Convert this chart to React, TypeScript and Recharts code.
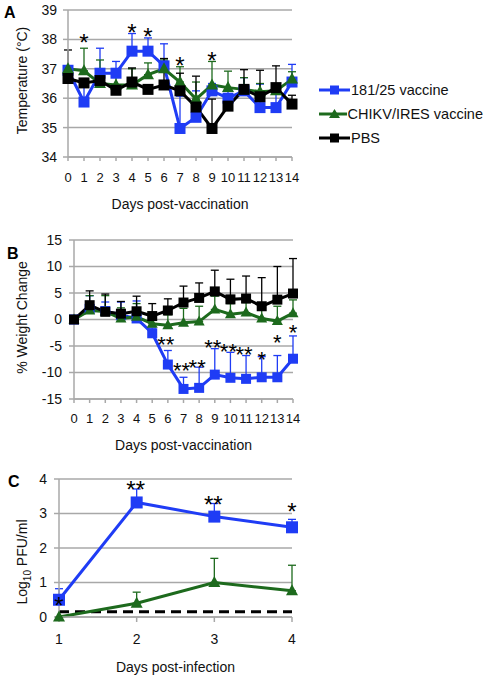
import React from 'react';
import { LineChart, Line, XAxis, YAxis, CartesianGrid, ErrorBar, Legend, ReferenceLine } from 'recharts';

const FONT = '"Liberation Sans", Arial, Helvetica, sans-serif';
const BLUE = '#1f3cf5';
const GREEN = '#1d6a1d';
const BLACK = '#000000';
const GRID = '#a8a8a8';

const seriesNames = ['181/25 vaccine', 'CHIKV/IRES vaccine', 'PBS'];

// Panel A: temperature
const daysA = [0, 1, 2, 3, 4, 5, 6, 7, 8, 9, 10, 11, 12, 13, 14];
const blueA = [36.95, 35.87, 36.85, 36.85, 37.6, 37.6, 37.1, 34.97, 35.35, 36.25, 36.0, 36.25, 35.68, 35.68, 36.55];
const blueErrA = [0.15, 0.6, 0.85, 0.4, 0.6, 0.45, 0.75, 1.1, 0.9, 0.25, 0.3, 0.45, 0.8, 0.6, 0.6];
const greenA = [37.0, 36.93, 36.5, 36.45, 36.45, 36.8, 37.0, 36.55, 35.97, 36.45, 36.36, 36.3, 36.22, 36.25, 36.65];
const greenErrA = [0.1, 0.77, 0.8, 0.55, 0.55, 0.4, 0.3, 0.52, 0.58, 0.8, 0.56, 0.4, 0.28, 0.2, 0.25];
const blackA = [36.67, 36.52, 36.6, 36.27, 36.55, 36.3, 36.45, 36.25, 35.7, 34.97, 35.73, 36.3, 36.05, 36.36, 35.8];
const blackErrA = [0.97, 0.1, 0.1, 0.15, 0.48, 0.1, 0.9, 0.6, 1.05, 1.0, 0.3, 0.67, 0.9, 0.74, 0.3];
const starsA = ['', '*', '', '', '*', '*', '', '*', '', '*', '', '', '', '', ''];
const starYA = [null, 38.1, null, null, 38.43, 38.3, null, 37.3, null, 37.47, null, null, null, null, null];
const ticksA = [34, 35, 36, 37, 38, 39];

// Panel B: weight change
const blueB = [0, 2.0, 1.6, 0.8, 0.2, -2.6, -8.5, -13.1, -12.9, -10.4, -11.0, -11.2, -10.9, -10.9, -7.4];
const blueErrB = [0, 2.5, 1.7, 2.5, 3.3, 1.0, 2.65, 2.2, 3.9, 4.9, 4.8, 4.4, 3.9, 4.1, 4.3];
const greenB = [0, 1.7, 1.5, 0.2, 0.5, -0.8, -1.1, -0.6, -0.4, 1.9, 1.0, 1.3, 0.2, -0.3, 1.2];
const greenErrB = [0, 2.8, 3.0, 2.0, 2.5, 2.0, 2.0, 2.7, 2.9, 2.5, 2.0, 1.9, 2.2, 2.8, 2.5];
const blackB = [0, 2.7, 1.45, 1.1, 1.55, 0.65, 1.7, 3.2, 4.07, 5.3, 3.8, 3.95, 2.5, 3.75, 4.9];
const blackErrB = [0, 2.7, 3.35, 2.3, 2.85, 2.35, 2.2, 3.1, 2.83, 4.0, 3.8, 4.25, 5.4, 6.25, 6.6];
const starsB = ['', '', '', '', '', '', '**', '**', '**', '**', '**', '**', '*', '*', '*'];
const starYB = [null, null, null, null, null, null, -3.6, -8.5, -8.06, -4.3, -4.95, -5.6, -6.4, -3.3, -1.4];
const ticksB = [-15, -10, -5, 0, 5, 10, 15];

// Panel C: viremia
const daysC = [1, 2, 3, 4];
const blueC = [0.5, 3.32, 2.91, 2.6];
const blueErrC = [0.32, 0.39, 0.38, 0.23];
const greenC = [0, 0.4, 1.0, 0.76];
const greenErrC = [0, 0.32, 0.7, 0.74];
const starsC = ['*', '**', '**', '*'];
const starYC = [0.5, 3.88, 3.43, 3.24];
const ticksC = [0, 1, 2, 3, 4];
const detectionLimit = 0.15;

const dataA = daysA.map((d, i) => ({
  day: d,
  blue: blueA[i], blueErr: [0, blueErrA[i]],
  green: greenA[i], greenErr: [0, greenErrA[i]],
  black: blackA[i], blackErr: [0, blackErrA[i]],
  starY: starYA[i],
}));

const dataB = daysA.map((d, i) => ({
  day: d,
  blue: blueB[i], blueErr: [0, blueErrB[i]],
  green: greenB[i], greenErr: [0, greenErrB[i]],
  black: blackB[i], blackErr: [0, blackErrB[i]],
  starY: starYB[i],
}));

const dataC = daysC.map((d, i) => ({
  day: d,
  blue: blueC[i], blueErr: [0, blueErrC[i]],
  green: greenC[i], greenErr: [0, greenErrC[i]],
  starY: starYC[i],
}));

const square = (color: string, size: number) => (props: any) => {
  const { cx, cy, index } = props;
  if (cx == null || cy == null) return <g key={`s-${index}`} />;
  return <rect key={`s-${index}`} x={cx - size / 2} y={cy - size / 2} width={size} height={size} fill={color} />;
};

const triangle = (color: string, size: number) => (props: any) => {
  const { cx, cy, index } = props;
  if (cx == null || cy == null) return <g key={`t-${index}`} />;
  const h = size / 2;
  return <polygon key={`t-${index}`} points={`${cx},${cy - h - 1} ${cx + h + 0.5},${cy + h - 1} ${cx - h - 0.5},${cy + h - 1}`} fill={color} />;
};

const starLabel = (stars: string[], fontSize: number, dx: number) => (props: any) => {
  const { x, y, index } = props;
  const s = stars[index];
  if (!s || x == null || y == null) return null;
  return (
    <text key={`st-${index}`} x={x + (s.length > 1 ? dx : 0)} y={y + fontSize * 0.6} textAnchor="middle" fontSize={fontSize} fontFamily={FONT} fill="#000">
      {s}
    </text>
  );
};

const yTitle = (text: React.ReactNode, dy: number) => (props: any) => {
  const vb = props.viewBox;
  const cx = 22;
  const cy = vb.y + vb.height / 2 + dy;
  return (
    <text transform={`rotate(-90 ${cx} ${cy})`} x={cx} y={cy} textAnchor="middle" dominantBaseline="central" fontSize={14} fontFamily={FONT} fill="#111">
      {text}
    </text>
  );
};

const xTitle = (text: string, dy: number) => (props: any) => {
  const vb = props.viewBox;
  return (
    <text x={vb.x + vb.width / 2} y={vb.y + dy} textAnchor="middle" dominantBaseline="central" fontSize={14} fontFamily={FONT} fill="#111">
      {text}
    </text>
  );
};

const renderLegend = (props: any) => {
  const items = (props.payload || []).filter((p: any) => p.type !== 'none');
  return (
    <div style={{ fontFamily: FONT }}>
      {items.map((p: any, i: number) => (
        <div key={i} style={{ display: 'flex', alignItems: 'center', height: 24 }}>
          <svg width={31} height={14} style={{ display: 'block' }}>
            <line x1={0} y1={7} x2={31} y2={7} stroke={p.color} strokeWidth={3} />
            {p.dataKey === 'green'
              ? <polygon points="15.5,2 21,11 10,11" fill={p.color} />
              : <rect x={11} y={2.5} width={9} height={9} fill={p.color} />}
          </svg>
          <span style={{ fontSize: 14.5, color: '#111', marginLeft: 1, whiteSpace: 'nowrap' }}>{p.value}</span>
        </div>
      ))}
    </div>
  );
};

const tickStyle = (size: number) => ({ fontSize: size, fill: '#111', fontFamily: FONT });

const panelLetter = (letter: string, left: number, top: number) => (
  <div style={{ position: 'absolute', left, top, fontSize: 16, fontWeight: 'bold', fontFamily: FONT, lineHeight: '16px' }}>{letter}</div>
);

export default function App() {
  return (
    <div style={{ position: 'absolute', left: 0, top: 0, width: 483, height: 678, background: '#fff', fontFamily: FONT }}>
      {panelLetter('A', 4, 5)}
      {panelLetter('B', 7, 246)}
      {panelLetter('C', 8, 474)}

      <div style={{ position: 'absolute', left: 0, top: 0 }}>
        <LineChart width={483} height={215} data={dataA} margin={{ top: 10, right: 191, bottom: 8, left: 8 }}>
          <CartesianGrid vertical={false} stroke={GRID} strokeWidth={1.5} />
          <XAxis dataKey="day" interval={0} height={50} tick={tickStyle(13)} tickSize={4} tickMargin={12}
            stroke={GRID} strokeWidth={1.5} label={{ content: xTitle('Days post-vaccination', 47) }} />
          <YAxis domain={[34, 39]} ticks={ticksA} width={60} tick={tickStyle(14)} tickSize={5} tickMargin={6}
            stroke={GRID} strokeWidth={1.5} label={{ content: yTitle('Temperature (°C)', -3) }} />
          <Line dataKey="blue" name={seriesNames[0]} stroke={BLUE} strokeWidth={3} dot={square(BLUE, 11)} activeDot={false} isAnimationActive={false}>
            <ErrorBar dataKey="blueErr" width={4} stroke={BLUE} strokeWidth={1.3} />
          </Line>
          <Line dataKey="green" name={seriesNames[1]} stroke={GREEN} strokeWidth={3} dot={triangle(GREEN, 11)} activeDot={false} isAnimationActive={false}>
            <ErrorBar dataKey="greenErr" width={4} stroke={GREEN} strokeWidth={1.3} />
          </Line>
          <Line dataKey="black" name={seriesNames[2]} stroke={BLACK} strokeWidth={3} dot={square(BLACK, 11)} activeDot={false} isAnimationActive={false}>
            <ErrorBar dataKey="blackErr" width={4} stroke={BLACK} strokeWidth={1.3} />
          </Line>
          <Line dataKey="starY" stroke="none" legendType="none" dot={false} activeDot={false} isAnimationActive={false} label={starLabel(starsA, 24, 0)} />
          <Legend layout="vertical" align="center" verticalAlign="middle" content={renderLegend}
            wrapperStyle={{ position: 'absolute', left: 319, top: 78, width: 164 }} />
        </LineChart>
      </div>

      <div style={{ position: 'absolute', left: 0, top: 215 }}>
        <LineChart width={483} height={245} data={dataB} margin={{ top: 25, right: 190, bottom: 6, left: 8 }}>
          <CartesianGrid vertical={false} stroke={GRID} strokeWidth={1.5} />
          <XAxis dataKey="day" interval={0} height={55} tick={tickStyle(13)} tickSize={4} tickMargin={11}
            stroke={GRID} strokeWidth={1.5} label={{ content: xTitle('Days post-vaccination', 46) }} />
          <YAxis domain={[-15, 15]} ticks={ticksB} width={66} tick={tickStyle(14)} tickSize={5} tickMargin={7}
            stroke={GRID} strokeWidth={1.5} label={{ content: yTitle('% Weight Change', -2) }} />
          <Line dataKey="blue" name={seriesNames[0]} stroke={BLUE} strokeWidth={3} dot={square(BLUE, 10)} activeDot={false} isAnimationActive={false}>
            <ErrorBar dataKey="blueErr" width={4} stroke={BLUE} strokeWidth={1.3} />
          </Line>
          <Line dataKey="green" name={seriesNames[1]} stroke={GREEN} strokeWidth={3} dot={triangle(GREEN, 10)} activeDot={false} isAnimationActive={false}>
            <ErrorBar dataKey="greenErr" width={4} stroke={GREEN} strokeWidth={1.3} />
          </Line>
          <Line dataKey="black" name={seriesNames[2]} stroke={BLACK} strokeWidth={3} dot={square(BLACK, 10)} activeDot={false} isAnimationActive={false}>
            <ErrorBar dataKey="blackErr" width={4} stroke={BLACK} strokeWidth={1.3} />
          </Line>
          <Line dataKey="starY" stroke="none" legendType="none" dot={false} activeDot={false} isAnimationActive={false} label={starLabel(starsB, 22, -2)} />
        </LineChart>
      </div>

      <div style={{ position: 'absolute', left: 0, top: 460 }}>
        <LineChart width={483} height={218} data={dataC} margin={{ top: 19, right: 191, bottom: 6, left: 8 }}>
          <CartesianGrid vertical={false} stroke={GRID} strokeWidth={1.5} />
          <XAxis dataKey="day" interval={0} height={55} tick={tickStyle(14)} tickSize={5} tickMargin={12}
            stroke={GRID} strokeWidth={1.5} label={{ content: xTitle('Days post-infection', 50) }} />
          <YAxis domain={[0, 4]} ticks={ticksC} width={51} tick={tickStyle(14)} tickSize={5} tickMargin={7}
            stroke={GRID} strokeWidth={1.5}
            label={{ content: yTitle(<>Log<tspan baselineShift="sub" fontSize={10}>10</tspan> PFU/ml</>, 14) }} />
          <ReferenceLine y={detectionLimit} stroke="#000" strokeWidth={3} strokeDasharray="10 6" />
          <Line dataKey="blue" name={seriesNames[0]} stroke={BLUE} strokeWidth={3} dot={square(BLUE, 12)} activeDot={false} isAnimationActive={false}>
            <ErrorBar dataKey="blueErr" width={4} stroke={BLUE} strokeWidth={1.3} />
          </Line>
          <Line dataKey="green" name={seriesNames[1]} stroke={GREEN} strokeWidth={3} dot={triangle(GREEN, 11)} activeDot={false} isAnimationActive={false}>
            <ErrorBar dataKey="greenErr" width={4} stroke={GREEN} strokeWidth={1.3} />
          </Line>
          <Line dataKey="starY" stroke="none" legendType="none" dot={false} activeDot={false} isAnimationActive={false} label={starLabel(starsC, 24, -1)} />
        </LineChart>
      </div>
    </div>
  );
}
